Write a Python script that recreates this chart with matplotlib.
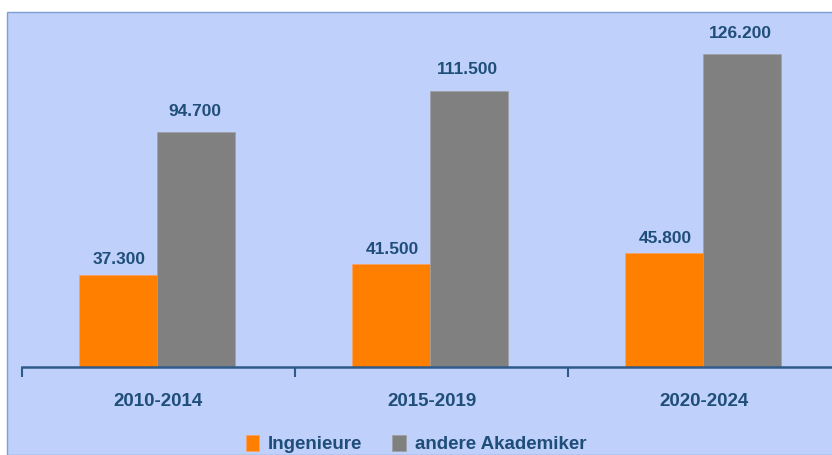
import matplotlib.pyplot as plt
from matplotlib.patches import Rectangle
import numpy as np

periods = ['2010-2014', '2015-2019', '2020-2024']
ingenieure = [37.3, 41.5, 45.8]
akademiker = [94.7, 111.5, 126.2]
ing_labels = ['37.300', '41.500', '45.800']
aka_labels = ['94.700', '111.500', '126.200']

bg = '#bfd0fb'
txt = '#1f4e79'
plt.rcParams['font.family'] = ['Liberation Sans', 'DejaVu Sans']

fig = plt.figure(figsize=(8.32, 4.55), dpi=100, facecolor='white')
fig.patches.append(Rectangle((7 / 832, 0), 1, 1 - 12 / 455, transform=fig.transFigure,
                             facecolor=bg, edgecolor='#7f9fd0', linewidth=1, zorder=-10))

ax = fig.add_axes([22 / 832, 88 / 455, 819 / 832, 347 / 455])
ax.set_facecolor('none')
ax.set_zorder(5)
x = np.arange(len(periods))
bw = 0.286
ax.bar(x - bw / 2 - 0.005, ingenieure, bw, color='#ff7f00', edgecolor='#ffa060', linewidth=0.5, label='Ingenieure')
ax.bar(x + bw / 2 - 0.005, akademiker, bw, color='#808080', edgecolor='#a0a0a0', linewidth=0.5, label='andere Akademiker')

for i in range(len(periods)):
    ax.text(x[i] - bw / 2, ingenieure[i] + 6, ing_labels[i], ha='center', va='center',
            fontsize=12.5, fontweight='bold', color=txt)
    ax.text(x[i] + bw / 2 - 0.01, akademiker[i] + 8.5, aka_labels[i], ha='center', va='center',
            fontsize=12.5, fontweight='bold', color=txt)

ax.set_xlim(-0.5, 2.5)
ax.set_ylim(0, 140)
ax.set_xticks([-0.5, 0.5, 1.5])
ax.set_xticklabels([])
ax.set_xticks(x, minor=True)
ax.set_xticklabels(periods, minor=True, fontsize=13.5, fontweight='bold', color=txt)
ax.tick_params(axis='x', which='major', length=7, width=1.5, color='#2e5b8a', direction='out')
ax.tick_params(axis='x', which='minor', length=0, pad=19)
ax.set_yticks([])
for s in ['top', 'right', 'left']:
    ax.spines[s].set_visible(False)
ax.spines['bottom'].set_color('#2e5b8a')
ax.spines['bottom'].set_linewidth(1.8)

leg = fig.legend(loc='center', bbox_to_anchor=(0.5, 11 / 455), ncol=2, frameon=False,
                 prop={'size': 13.5, 'weight': 'bold'}, handlelength=0.7, handleheight=1.0,
                 columnspacing=1.6, handletextpad=0.5, labelcolor=txt, borderpad=0.1)
leg.set_zorder(6)

fig.savefig('out.png', dpi=100, facecolor='white')
